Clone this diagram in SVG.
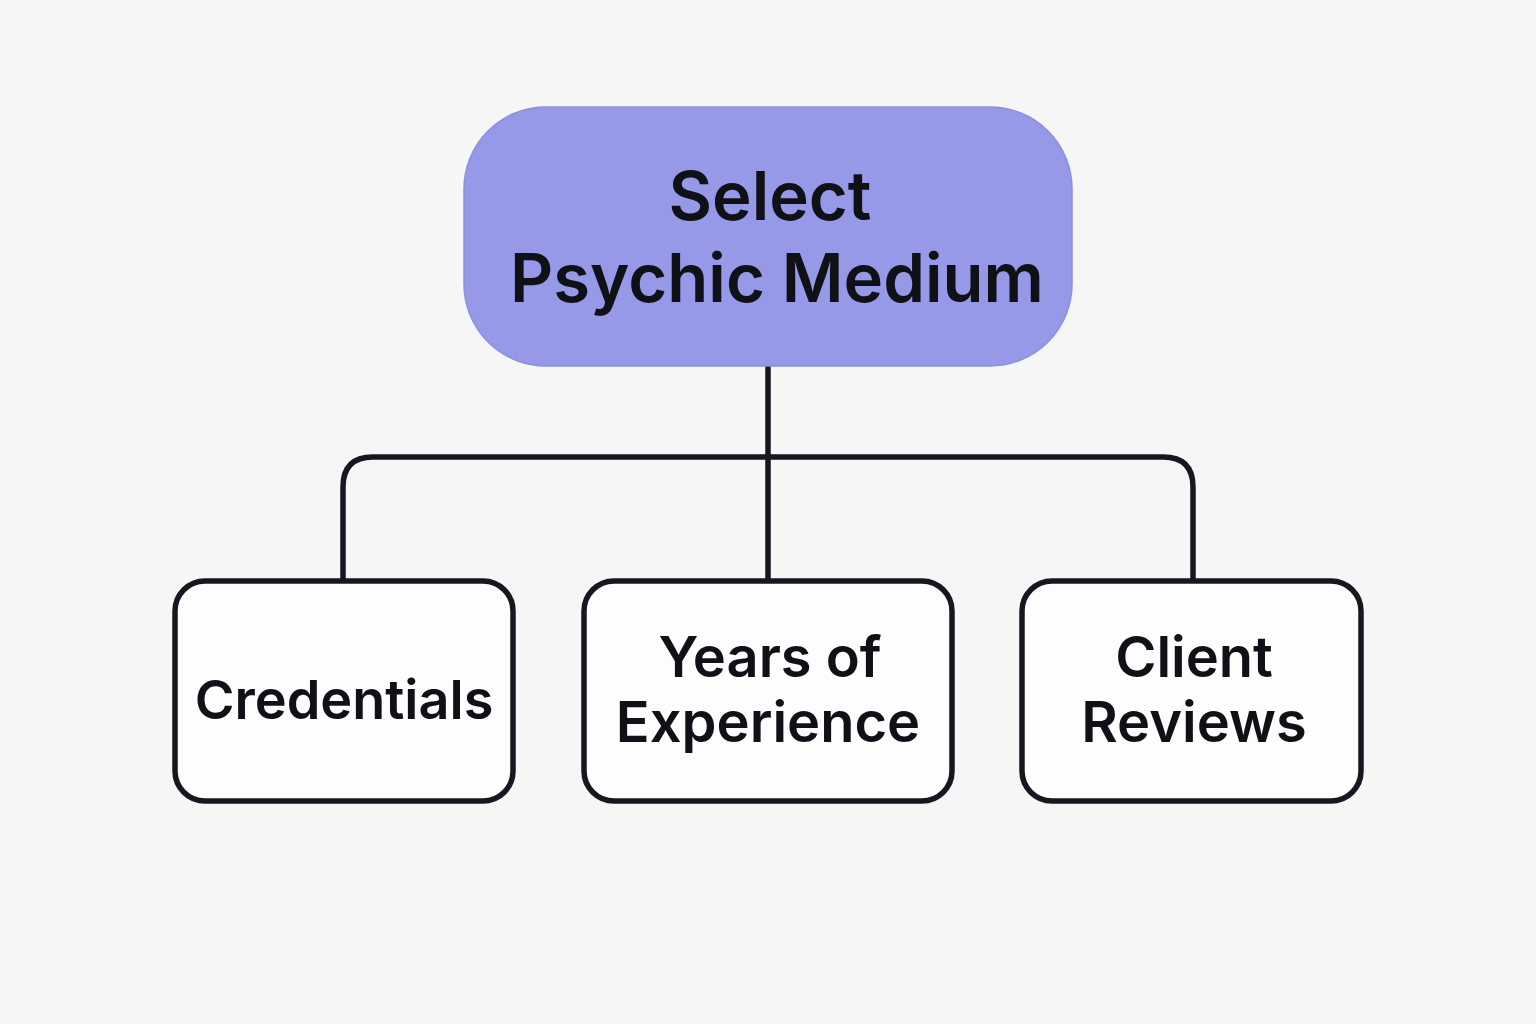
<svg xmlns="http://www.w3.org/2000/svg" width="1536" height="1024" viewBox="0 0 1536 1024">
<style>
.bg{fill:#f6f6f6}
.root{fill:#9698e8;stroke:#8d90e0;stroke-width:1.5}
.child{fill:#fdfdfd;stroke:#15181f;stroke-width:5.5}
.conn{fill:none;stroke:#15181f;stroke-width:5.5;stroke-linecap:butt}
text{font-family:Inter,"Liberation Sans",sans-serif;font-weight:600;fill:#0f1117;text-anchor:middle}
.t1{font-size:67px}
.t2{font-size:56px}
.t3{font-size:54px}
</style>
<rect class="bg" x="0" y="0" width="1536" height="1024"/>
<g id="connectors">
<path class="conn" d="M768 366 V580"/>
<path class="conn" d="M343 580 V487 Q343 457 373 457 H1163 Q1193 457 1193 487 V580"/>
</g>
<g id="root">
<rect class="root" x="464" y="107" width="608" height="259" rx="82"/>
<text class="t1" x="770" y="220">Select</text>
<text class="t1" x="777" y="302">Psychic Medium</text>
</g>
<g id="credentials">
<rect class="child" x="175" y="581" width="338" height="220" rx="30"/>
<text class="t3" x="344" y="719">Credentials</text>
</g>
<g id="experience">
<rect class="child" x="584" y="581" width="368" height="220" rx="30"/>
<text class="t2" x="770" y="677">Years of</text>
<text class="t2" x="768" y="742">Experience</text>
</g>
<g id="reviews">
<rect class="child" x="1022" y="581" width="339" height="220" rx="30"/>
<text class="t2" x="1194" y="677">Client</text>
<text class="t2" x="1194" y="742">Reviews</text>
</g>
</svg>
